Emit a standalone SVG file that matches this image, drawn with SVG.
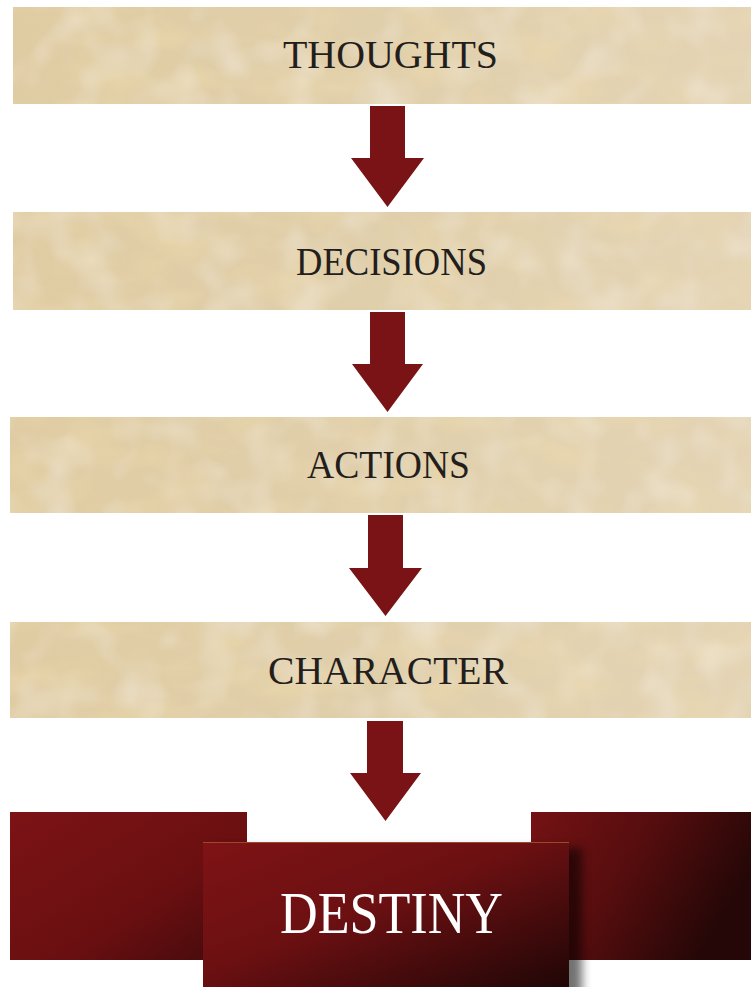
<svg xmlns="http://www.w3.org/2000/svg" width="751" height="987" viewBox="0 0 751 987">
  <defs>
    <linearGradient id="parch" x1="0" y1="0" x2="1" y2="0">
      <stop offset="0" stop-color="#e0cca3"/>
      <stop offset="0.5" stop-color="#e0cfab"/>
      <stop offset="1" stop-color="#e4d4b5"/>
    </linearGradient>
    <linearGradient id="redC" x1="0" y1="0" x2="1" y2="1">
      <stop offset="0" stop-color="#7e1315"/>
      <stop offset="0.45" stop-color="#6c1012"/>
      <stop offset="1" stop-color="#200606"/>
    </linearGradient>
    <linearGradient id="redL" x1="0" y1="0" x2="1" y2="1">
      <stop offset="0" stop-color="#7c1315"/>
      <stop offset="0.6" stop-color="#6a0f11"/>
      <stop offset="1" stop-color="#420a0b"/>
    </linearGradient>
    <linearGradient id="redR" x1="0" y1="0" x2="1" y2="0.4">
      <stop offset="0" stop-color="#741214"/>
      <stop offset="0.5" stop-color="#560d0e"/>
      <stop offset="1" stop-color="#250707"/>
    </linearGradient>
    <filter id="paper" x="0" y="0" width="100%" height="100%">
      <feTurbulence type="fractalNoise" baseFrequency="0.015 0.03" numOctaves="3" seed="11" result="n"/>
      <feColorMatrix in="n" type="matrix" values="0 0 0 0 0.84  0 0 0 0 0.70  0 0 0 0 0.42  0 0 0 1.1 -0.45" result="spots"/>
      <feComposite in="spots" in2="SourceGraphic" operator="in" result="s2"/>
      <feTurbulence type="fractalNoise" baseFrequency="0.025" numOctaves="2" seed="4" result="n2"/>
      <feColorMatrix in="n2" type="matrix" values="0 0 0 0 0.92  0 0 0 0 0.87  0 0 0 0 0.77  0 0 0 0.9 -0.4" result="light"/>
      <feComposite in="light" in2="SourceGraphic" operator="in" result="l2"/>
      <feMerge><feMergeNode in="SourceGraphic"/><feMergeNode in="s2"/><feMergeNode in="l2"/></feMerge>
    </filter>
    <filter id="shadow" x="-10%" y="-10%" width="130%" height="130%">
      <feGaussianBlur stdDeviation="5"/>
    </filter>
  </defs>
  <style>
    .paper { fill: url(#parch); filter: url(#paper); }
    .lbl { font-family: "Liberation Serif", "Times New Roman", serif; font-size: 41px; fill: #231e1c; text-anchor: middle; }
    .dlbl { font-family: "Liberation Serif", "Times New Roman", serif; font-size: 59px; fill: #ffffff; text-anchor: middle; }
    .arrow { fill: #7a1315; }
  </style>
  <rect width="751" height="987" fill="#ffffff"/>

  <g id="thoughts">
    <rect class="paper" x="13" y="7" width="738" height="97"/>
    <text class="lbl" x="390.5" y="68" textLength="215" lengthAdjust="spacingAndGlyphs">THOUGHTS</text>
  </g>
  <g id="decisions">
    <rect class="paper" x="13" y="212" width="738" height="98"/>
    <text class="lbl" x="391.5" y="275" textLength="191" lengthAdjust="spacingAndGlyphs">DECISIONS</text>
  </g>
  <g id="actions">
    <rect class="paper" x="10" y="417" width="741" height="96"/>
    <text class="lbl" x="388.5" y="478" textLength="163" lengthAdjust="spacingAndGlyphs">ACTIONS</text>
  </g>
  <g id="character">
    <rect class="paper" x="10" y="622" width="741" height="96"/>
    <text class="lbl" x="388" y="684" textLength="240" lengthAdjust="spacingAndGlyphs">CHARACTER</text>
  </g>

  <g id="connectors">
    <polygon class="arrow" points="370,106 405,106 405,158 424,158 387.5,207 351,158 370,158"/>
    <polygon class="arrow" points="370,312 405,312 405,364 423,364 387.5,412 352,364 370,364"/>
    <polygon class="arrow" points="368,515 403,515 403,568 422,568 385.5,616 349,568 368,568"/>
    <polygon class="arrow" points="367,721 403,721 403,773 421,773 385.5,821 350,773 367,773"/>
  </g>

  <g id="destiny">
    <rect x="10" y="812" width="237" height="148" fill="url(#redL)"/>
    <rect x="531" y="812" width="220" height="148" fill="url(#redR)"/>
    <rect x="212" y="848" width="370" height="150" fill="#000000" opacity="0.55" filter="url(#shadow)"/>
    <rect x="203" y="842" width="366" height="145" fill="url(#redC)"/>
    <line x1="203" y1="842.5" x2="569" y2="842.5" stroke="#9a4a2a" stroke-width="1"/>
    <text class="dlbl" x="391.5" y="933" textLength="223" lengthAdjust="spacingAndGlyphs">DESTINY</text>
  </g>
</svg>
